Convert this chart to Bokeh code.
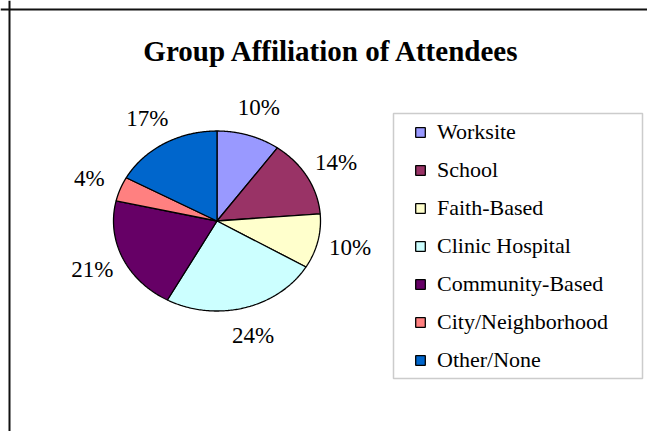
import numpy as np
from bokeh.plotting import figure
from bokeh.models import Range1d, Span, Label, Legend, LegendItem, BoxAnnotation, ColumnDataSource
from bokeh.embed import file_html
from bokeh.resources import INLINE
from bokeh.core.properties import value

# ---- data ----
title = "Group Affiliation of Attendees"
categories = ["Worksite", "School", "Faith-Based", "Clinic Hospital",
              "Community-Based", "City/Neighborhood", "Other/None"]
shares = [9.9, 13.8, 9.8, 24.4, 20.6, 4.4, 17.0]
colors = ["#9999FF", "#993366", "#FFFFCC", "#CCFFFF", "#660066", "#FF8080", "#0066CC"]

# ---- layout (page pixel coordinates) ----
W, H = 647, 431
CX, CY = 216.5, 220.5       # pie centre
RX, RY = 103.5, 90.0        # pie radii (elliptical as in reference)
LABEL_R = 1.32

p = figure(width=W, height=H, output_backend="svg", toolbar_location=None,
           x_range=Range1d(0, W), y_range=Range1d(H, 0),
           x_axis_location=None, y_axis_location=None, min_border=0)
p.grid.visible = False
p.outline_line_color = None
p.background_fill_color = "white"
p.border_fill_color = "white"

# chart frame (left and top edges visible)
p.add_layout(Span(location=9, dimension="height", line_color="#111111", line_width=2))
p.add_layout(Span(location=9, dimension="width", line_color="#111111", line_width=2))

# ---- pie slices ----
vals = np.array(shares, dtype=float)
frac = vals / vals.sum()
ends = np.cumsum(frac) * 2 * np.pi
starts = ends - frac * 2 * np.pi
xs, ys = [], []
for a0, a1 in zip(starts, ends):
    t = np.linspace(a0, a1, 120)
    xs.append([CX] + list(CX + RX * np.sin(t)) + [CX])
    ys.append([CY] + list(CY - RY * np.cos(t)) + [CY])

src = ColumnDataSource(dict(xs=xs, ys=ys, color=colors, cat=categories))
r = p.patches("xs", "ys", source=src, fill_color="color", line_color="black", line_width=1.3)

# ---- percentage labels ----
mids = (starts + ends) / 2
lbl = ColumnDataSource(dict(
    x=CX + LABEL_R * RX * np.sin(mids),
    y=CY - LABEL_R * RY * np.cos(mids),
    t=[f"{round(v)}%" for v in shares]))
p.text("x", "y", text="t", source=lbl, text_font=value("Liberation Serif"),
       text_font_size="23px", text_align="center", text_baseline="middle",
       text_color="black")

# ---- title ----
p.add_layout(Label(x=331.5, y=50, text=title, text_font="Liberation Serif",
                   text_font_size="29px", text_font_style="bold", text_align="center",
                   text_baseline="alphabetic", text_color="black"))

# ---- legend ----
p.add_layout(BoxAnnotation(left=393, right=642, top=113, bottom=378,
                           fill_color="white", fill_alpha=1.0,
                           line_color="#555555", line_width=1.5))
legend = Legend(items=[LegendItem(label=c, renderers=[r], index=i) for i, c in enumerate(categories)],
                location=(414, 58), padding=0, spacing=11, margin=0,
                glyph_width=12, glyph_height=12, label_height=27, label_standoff=11,
                label_text_font="Liberation Serif", label_text_font_size="22px",
                label_text_color="black", border_line_color=None,
                background_fill_alpha=0)
p.add_layout(legend)

open("out.html", "w").write(file_html(p, INLINE))
